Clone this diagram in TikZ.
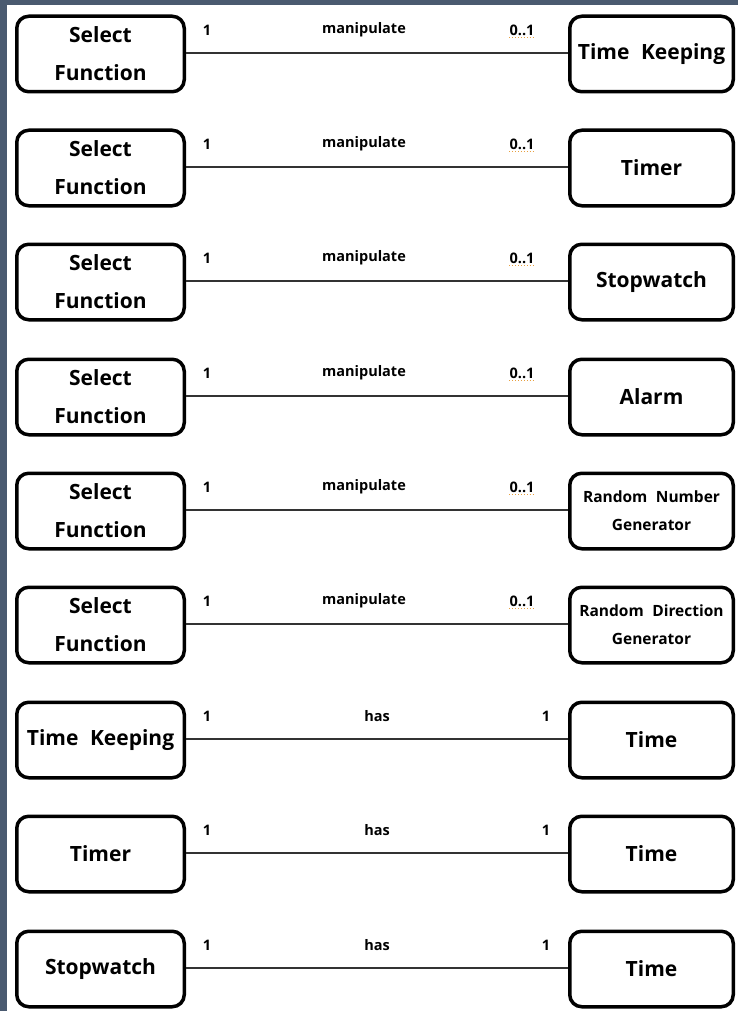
\documentclass[tikz,border=0pt]{standalone}
\usepackage{fontspec}
\setmainfont{Open Sans}
\definecolor{frame}{HTML}{4A5A70}
\definecolor{squiggle}{HTML}{E8A040}
\tikzset{
  cls/.style={draw=black, line width=3.5pt, rounded corners=12pt, fill=white,
    minimum height=75.5pt, align=center, inner sep=2pt,
    font=\bfseries\fontsize{21}{38}\selectfont},
  lcls/.style={cls, minimum width=167.5pt},
  rcls/.style={cls, minimum width=163.5pt},
  small/.style={font=\bfseries\fontsize{15.5}{28}\selectfont},
  assoc/.style={draw=black!80, line width=1.3pt},
  lbl/.style={font=\bfseries\fontsize{14.5}{16}\selectfont, inner sep=0pt},
}
\newcommand{\wsp}{\hspace{0.55em}}
\begin{document}
\begin{tikzpicture}[x=1pt, y=-1pt]
  \useasboundingbox (0,0) rectangle (738,1011);
  \fill[white] (0,0) rectangle (738,1011);
  % dark frame along the top and left edges
  \fill[frame] (0,0) rectangle (738,5);
  \fill[frame] (0,0) rectangle (7,1011);

  % rows: index / line y / left text / right text / right style / end labels / kind
  \foreach \i/\y/\lt/\rt/\rs/\a/\m/\b/\kind in {
      1/53/{Select\\Function}/{Time\wsp Keeping}/{}/1/manipulate/0..1/m,
      2/167/{Select\\Function}/{Timer}/{}/1/manipulate/0..1/m,
      3/281/{Select\\Function}/{Stopwatch}/{}/1/manipulate/0..1/m,
      4/396/{Select\\Function}/{Alarm}/{}/1/manipulate/0..1/m,
      5/510/{Select\\Function}/{Random\wsp Number\\Generator}/small/1/manipulate/0..1/m,
      6/624/{Select\\Function}/{Random\wsp Direction\\Generator}/small/1/manipulate/0..1/m,
      7/739/{Time\wsp Keeping}/{Time}/{}/1/has/1/h,
      8/853/{Timer}/{Time}/{}/1/has/1/h,
      9/968/{Stopwatch}/{Time}/{}/1/has/1/h} {
    \node[lcls] (L\i) at (100.5,\y+1) {\lt};
    \node[rcls,\rs] (R\i) at (651.5,\y+1) {\rt};
    \draw[assoc] (L\i.east |- 0,\y) -- (R\i.west |- 0,\y);
    \node[lbl] (A\i) at (207,\y-23) {\a};
    \if m\kind
      \node[lbl] (M\i) at (364,\y-23) {\m};
      \node[lbl] (B\i) at (522,\y-23) {\b};
      \draw[squiggle, line width=0.9pt, dotted] (B\i.south west) ++(0,1.5) -- ++(26,0);
    \else
      \node[lbl] (M\i) at (377,\y-23) {\m};
      \node[lbl] (B\i) at (546,\y-23) {\b};
    \fi
  }
\end{tikzpicture}
\end{document}
